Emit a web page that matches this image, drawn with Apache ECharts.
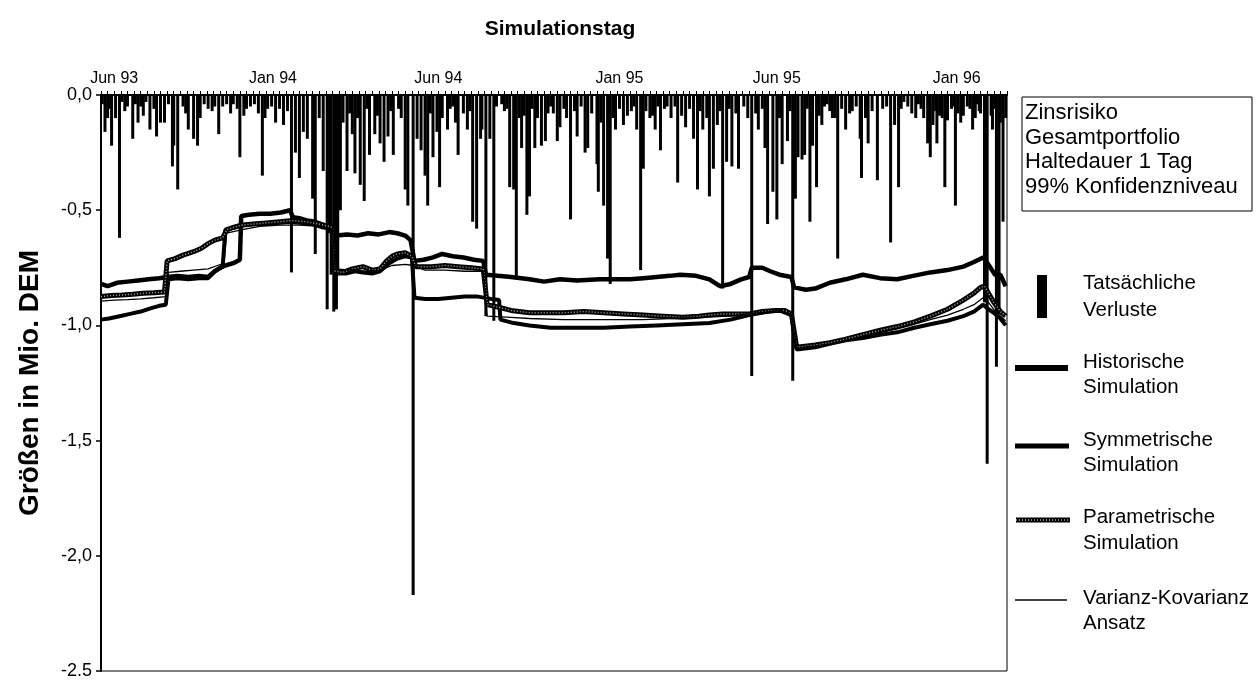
<!DOCTYPE html>
<html>
<head>
<meta charset="utf-8">
<title>Simulationstag</title>
<script src="https://cdn.jsdelivr.net/npm/echarts@6/dist/echarts.min.js"></script>
<style>
  html, body { margin: 0; padding: 0; background: #fff; }
  #chart { width: 1258px; height: 681px; }
</style>
</head>
<body>
<div id="chart"></div>
<script>
// x = Simulationstag (Handelstag seit Jun 93), y = Mio. DEM
const dayCount = 685;
const xTickDays = [10, 130, 255, 392, 511, 647];
const xTickLabels = ['Jun 93', 'Jan 94', 'Jun 94', 'Jan 95', 'Jun 95', 'Jan 96'];
const yTickValues = [0, -0.5, -1, -1.5, -2, -2.5];
const yTickLabels = ['0,0', '-0,5', '-1,0', '-1,5', '-2,0', '-2.5'];

// Tatsächliche Verluste [Tag, Verlust]
const lossData = [
  [1,-0.04],[3,-0.16],[5,-0.10],[7,-0.06],[8,-0.22],[11,-0.10],[14,-0.62],[16,-0.03],[18,-0.07],[20,-0.05],
  [24,-0.19],[26,-0.04],[28,-0.12],[30,-0.05],[32,-0.09],[34,-0.03],[37,-0.15],[40,-0.06],[42,-0.18],[45,-0.12],
  [48,-0.12],[51,-0.04],[54,-0.31],[55,-0.22],[58,-0.41],[62,-0.05],[64,-0.08],[66,-0.15],[70,-0.19],[73,-0.22],
  [75,-0.10],[78,-0.04],[81,-0.06],[84,-0.07],[86,-0.05],[89,-0.17],[92,-0.05],[95,-0.04],[98,-0.08],[100,-0.04],
  [103,-0.06],[105,-0.27],[108,-0.09],[110,-0.06],[113,-0.05],[116,-0.04],[119,-0.08],[122,-0.35],[124,-0.10],[126,-0.06],
  [129,-0.05],[132,-0.12],[135,-0.06],[138,-0.13],[141,-0.07],[144,-0.77],[147,-0.25],[150,-0.36],[153,-0.16],[156,-0.19],
  [160,-0.45],[162,-0.69],[165,-0.10],[168,-0.33],[171,-0.93],[172,-0.60],[174,-0.78],[176,-0.94],[178,-0.93],[179,-0.78],
  [181,-0.50],[183,-0.12],[186,-0.33],[188,-0.08],[190,-0.17],[192,-0.34],[194,-0.10],[196,-0.39],[199,-0.46],[201,-0.06],
  [203,-0.26],[207,-0.17],[209,-0.09],[211,-0.21],[214,-0.29],[217,-0.18],[219,-0.07],[221,-0.26],[225,-0.06],[227,-0.10],
  [230,-0.41],[232,-0.48],[236,-2.17],[239,-0.19],[242,-0.24],[245,-0.35],[247,-0.48],[249,-0.08],[251,-0.27],[254,-0.16],
  [256,-0.40],[258,-0.10],[262,-0.15],[264,-0.06],[266,-0.05],[268,-0.12],[270,-0.26],[274,-0.08],[277,-0.15],[279,-0.07],
  [281,-0.55],[284,-0.58],[287,-0.19],[288,-0.15],[291,-0.96],[294,-0.19],[297,-0.98],[299,-0.05],[303,-0.04],[305,-0.07],
  [307,-0.06],[309,-0.40],[312,-0.41],[314,-0.80],[316,-0.10],[318,-0.23],[320,-0.09],[322,-0.52],[324,-0.44],[326,-0.06],
  [328,-0.23],[330,-0.10],[333,-0.22],[336,-0.20],[338,-0.08],[340,-0.05],[342,-0.08],[345,-0.20],[347,-0.14],[350,-0.06],
  [352,-0.10],[355,-0.54],[358,-0.07],[360,-0.18],[363,-0.05],[366,-0.25],[368,-0.23],[371,-0.08],[375,-0.30],[376,-0.42],
  [378,-0.12],[380,-0.48],[383,-0.71],[385,-0.82],[387,-0.10],[389,-0.15],[392,-0.06],[395,-0.13],[398,-0.09],[401,-0.07],
  [403,-0.05],[405,-0.15],[408,-0.76],[410,-0.32],[412,-0.07],[415,-0.10],[417,-0.09],[419,-0.15],[421,-0.05],[423,-0.24],
  [426,-0.06],[428,-0.05],[431,-0.10],[434,-0.05],[436,-0.38],[439,-0.09],[442,-0.14],[445,-0.06],[448,-0.19],[451,-0.41],
  [453,-0.07],[455,-0.15],[458,-0.10],[460,-0.44],[463,-0.32],[466,-0.13],[468,-0.07],[470,-0.84],[473,-0.29],[475,-0.06],
  [477,-0.31],[480,-0.08],[482,-0.32],[486,-0.05],[489,-0.10],[492,-1.22],[495,-0.08],[497,-0.15],[500,-0.06],[502,-0.23],
  [504,-0.56],[508,-0.42],[511,-0.54],[513,-0.10],[515,-0.30],[519,-0.20],[521,-0.07],[523,-1.24],[525,-0.45],[527,-0.27],
  [530,-0.28],[532,-0.26],[534,-0.06],[536,-0.55],[538,-0.22],[541,-0.40],[543,-0.09],[545,-0.13],[547,-0.05],[549,-0.04],
  [551,-0.07],[553,-0.10],[555,-0.10],[557,-0.71],[560,-0.06],[563,-0.15],[566,-0.08],[568,-0.07],[571,-0.05],[574,-0.19],
  [575,-0.36],[578,-0.10],[580,-0.21],[583,-0.07],[587,-0.37],[591,-0.06],[594,-0.05],[597,-0.64],[600,-0.13],[603,-0.40],
  [605,-0.06],[607,-0.03],[610,-0.05],[613,-0.08],[616,-0.10],[618,-0.04],[620,-0.06],[622,-0.10],[625,-0.21],[627,-0.27],
  [629,-0.13],[631,-0.07],[632,-0.21],[634,-0.09],[636,-0.10],[638,-0.40],[640,-0.11],[643,-0.06],[645,-0.05],[646,-0.48],
  [648,-0.08],[650,-0.12],[652,-0.09],[655,-0.05],[657,-0.06],[659,-0.15],[661,-0.10],[662,-0.04],[664,-0.07],[665,-0.08],
  [668,-0.90],[670,-1.60],[673,-0.09],[674,-0.15],[676,-0.06],[677,-1.18],[679,-0.95],[680,-0.12],[682,-0.55],[684,-0.10]
];

// Historische Simulation
const hsData = [
  [0,-0.82],[5,-0.83],[12,-0.815],[20,-0.81],[28,-0.805],[36,-0.80],[44,-0.795],[50,-0.79],
  [58,-0.785],[66,-0.79],[74,-0.785],[81,-0.79],[86,-0.765],[90,-0.75],[94,-0.74],[100,-0.73],[105,-0.715],
  [106,-0.525],[112,-0.52],[120,-0.515],[128,-0.515],[136,-0.51],[143,-0.50],
  [145,-0.53],[150,-0.535],[156,-0.545],[162,-0.55],[168,-0.565],[174,-0.575],
  [178,-0.61],[186,-0.605],[194,-0.61],[202,-0.60],[210,-0.605],[218,-0.595],[224,-0.60],[230,-0.61],[234,-0.63],
  [237,-0.72],[244,-0.715],[251,-0.705],[258,-0.69],[266,-0.70],[274,-0.705],[282,-0.715],[289,-0.72],
  [291,-0.78],[300,-0.785],[310,-0.79],[324,-0.80],[335,-0.81],[347,-0.80],[360,-0.805],[377,-0.80],[390,-0.80],
  [400,-0.80],[410,-0.795],[420,-0.79],[430,-0.785],[438,-0.78],[450,-0.785],[460,-0.80],[468,-0.83],[476,-0.82],
  [484,-0.80],[490,-0.79],[492,-0.75],[500,-0.75],[506,-0.765],[513,-0.78],[522,-0.79],
  [524,-0.835],[533,-0.845],[540,-0.84],[551,-0.815],[563,-0.80],[576,-0.78],[589,-0.795],[602,-0.80],
  [614,-0.785],[627,-0.77],[640,-0.76],[652,-0.745],[660,-0.725],[667,-0.705],[672,-0.745],[676,-0.78],[680,-0.78],[684,-0.83]
];

// Symmetrische Simulation
const ssData = [
  [0,-0.975],[6,-0.97],[14,-0.96],[22,-0.95],[30,-0.94],[38,-0.925],[44,-0.915],[49,-0.91],
  [51,-0.80],[58,-0.795],[66,-0.80],[74,-0.795],[81,-0.795],[86,-0.765],[92,-0.745],
  [94,-0.585],[100,-0.575],[106,-0.565],[115,-0.56],[125,-0.56],[135,-0.555],[143,-0.55],[150,-0.555],[160,-0.56],[168,-0.575],[175,-0.58],
  [177,-0.775],[185,-0.775],[192,-0.765],[198,-0.77],[205,-0.775],[211,-0.765],[218,-0.73],[224,-0.71],[230,-0.70],[235,-0.705],
  [237,-0.88],[245,-0.885],[255,-0.885],[265,-0.88],[275,-0.875],[285,-0.875],[295,-0.885],[301,-0.89],
  [302,-0.975],[312,-0.99],[324,-1.0],[340,-1.01],[360,-1.01],[380,-1.01],[400,-1.005],[420,-1.0],[440,-0.995],
  [460,-0.99],[476,-0.975],[490,-0.955],[505,-0.94],[513,-0.935],[522,-0.955],
  [526,-1.105],[540,-1.095],[551,-1.08],[563,-1.065],[576,-1.055],[590,-1.04],[602,-1.03],[615,-1.01],
  [627,-0.995],[640,-0.98],[652,-0.96],[660,-0.94],[667,-0.91],[671,-0.93],[675,-0.945],[680,-0.97],[684,-1.0]
];

// Parametrische Simulation
const psData = [
  [0,-0.875],[8,-0.87],[16,-0.868],[24,-0.865],[32,-0.86],[40,-0.858],[48,-0.855],
  [50,-0.72],[56,-0.71],[62,-0.695],[70,-0.68],[76,-0.665],[81,-0.645],[86,-0.63],[92,-0.62],[95,-0.585],
  [100,-0.575],[106,-0.565],[115,-0.56],[125,-0.555],[135,-0.55],[145,-0.545],[155,-0.55],[165,-0.56],[172,-0.57],[175,-0.575],
  [177,-0.765],[183,-0.77],[190,-0.755],[198,-0.745],[205,-0.76],[211,-0.755],[216,-0.72],[220,-0.70],[224,-0.69],[230,-0.685],[235,-0.70],
  [238,-0.745],[250,-0.745],[260,-0.74],[270,-0.745],[280,-0.75],[289,-0.755],
  [292,-0.91],[300,-0.92],[310,-0.935],[324,-0.945],[335,-0.945],[350,-0.945],[365,-0.94],[380,-0.945],[395,-0.95],
  [410,-0.955],[425,-0.96],[440,-0.965],[452,-0.96],[460,-0.955],[470,-0.95],[480,-0.95],[490,-0.95],[500,-0.94],
  [510,-0.935],[517,-0.935],[522,-0.95],
  [526,-1.095],[540,-1.085],[551,-1.075],[563,-1.06],[576,-1.04],[590,-1.02],[602,-1.005],[615,-0.985],
  [627,-0.96],[640,-0.93],[652,-0.89],[660,-0.86],[665,-0.835],[668,-0.83],[671,-0.86],[675,-0.90],[680,-0.94],[684,-0.96]
];

// Varianz-Kovarianz Ansatz
const vkData = [
  [0,-0.895],[10,-0.89],[20,-0.888],[30,-0.885],[40,-0.88],[49,-0.875],
  [51,-0.77],[60,-0.765],[70,-0.76],[81,-0.755],[88,-0.74],[93,-0.73],[95,-0.60],[106,-0.585],[120,-0.57],
  [135,-0.565],[150,-0.565],[165,-0.57],[175,-0.58],
  [177,-0.755],[190,-0.76],[200,-0.765],[211,-0.76],[220,-0.74],[230,-0.735],[236,-0.74],[245,-0.76],[260,-0.76],[275,-0.765],[289,-0.765],
  [292,-0.96],[310,-0.965],[324,-0.97],[350,-0.975],[380,-0.975],[410,-0.975],[430,-0.97],[453,-0.965],[476,-0.96],
  [490,-0.95],[505,-0.94],[513,-0.935],[522,-0.95],
  [526,-1.10],[540,-1.09],[551,-1.08],[563,-1.065],[576,-1.05],[590,-1.03],[602,-1.015],[615,-0.995],
  [627,-0.975],[640,-0.955],[652,-0.93],[660,-0.91],[667,-0.88],[671,-0.90],[675,-0.93],[680,-0.96],[684,-0.98]
];

const infoLines = ['Zinsrisiko', 'Gesamtportfolio', 'Haltedauer 1 Tag', '99% Konfidenzniveau'];

const font = '"Liberation Sans", Arial, sans-serif';
const chart = echarts.init(document.getElementById('chart'));

function legendText(x, y, str) {
  return { type: 'text', x: x, y: y, style: { text: str, font: '20.5px ' + font, fill: '#000', verticalAlign: 'middle' } };
}

const graphics = [
  { type: 'rect', shape: { x: 1022, y: 97, width: 230, height: 114 }, style: { fill: '#fff', stroke: '#000', lineWidth: 1 } },
  { type: 'rect', shape: { x: 1037, y: 275, width: 10, height: 43 }, style: { fill: '#000' } },
  { type: 'line', shape: { x1: 1015, y1: 368, x2: 1068, y2: 368 }, style: { stroke: '#000', lineWidth: 6 } },
  { type: 'line', shape: { x1: 1015, y1: 446, x2: 1069, y2: 446 }, style: { stroke: '#000', lineWidth: 5 } },
  { type: 'line', shape: { x1: 1016, y1: 520, x2: 1070, y2: 520 }, style: { stroke: '#000', lineWidth: 5 } },
  { type: 'line', shape: { x1: 1016, y1: 520, x2: 1070, y2: 520 }, style: { stroke: '#aaa', lineWidth: 1.5, lineDash: [1, 2] } },
  { type: 'line', shape: { x1: 1015, y1: 600, x2: 1067, y2: 600 }, style: { stroke: '#000', lineWidth: 1.5 } },
  legendText(1083, 283, 'Tatsächliche'), legendText(1083, 310, 'Verluste'),
  legendText(1083, 362, 'Historische'), legendText(1083, 387, 'Simulation'),
  legendText(1083, 440, 'Symmetrische'), legendText(1083, 465, 'Simulation'),
  legendText(1083, 517, 'Parametrische'), legendText(1083, 543, 'Simulation'),
  legendText(1083, 598, 'Varianz-Kovarianz'), legendText(1083, 623, 'Ansatz')
];
infoLines.forEach((t, i) => {
  graphics.push({ type: 'text', x: 1025, y: 113 + i * 24.5, style: { text: t, font: '22px ' + font, fill: '#000', verticalAlign: 'middle' } });
});

chart.setOption({
  animation: false,
  backgroundColor: '#fff',
  textStyle: { fontFamily: font, color: '#000' },
  title: {
    text: 'Simulationstag',
    left: 555,
    top: 14,
    textAlign: 'center',
    textStyle: { fontSize: 21, fontWeight: 'bold', color: '#000', fontFamily: font }
  },
  grid: { left: 101, right: 251, top: 95, bottom: 10, show: true, borderColor: '#000', borderWidth: 1 },
  xAxis: {
    type: 'value',
    position: 'top',
    min: 0,
    max: dayCount,
    interval: 5,
    axisLine: { lineStyle: { color: '#000', width: 2 } },
    axisTick: { length: 4, lineStyle: { color: '#000', width: 1 } },
    axisLabel: {
      customValues: xTickDays,
      formatter: v => xTickLabels[xTickDays.indexOf(v)] || '',
      fontSize: 16,
      color: '#000',
      margin: 8
    },
    splitLine: { show: false }
  },
  yAxis: {
    type: 'value',
    min: -2.5,
    max: 0,
    interval: 0.5,
    name: 'Größen in Mio. DEM',
    nameLocation: 'middle',
    nameGap: 57,
    nameTextStyle: { fontSize: 28, fontWeight: 'bold', color: '#000', fontFamily: font },
    axisLine: { show: true, lineStyle: { color: '#000', width: 2 } },
    axisTick: { show: true, length: 5, lineStyle: { color: '#000', width: 1.5 } },
    axisLabel: {
      formatter: v => {
        const i = yTickValues.findIndex(t => Math.abs(t - v) < 1e-6);
        return i >= 0 ? yTickLabels[i] : '';
      },
      fontSize: 18,
      color: '#000',
      margin: 9
    },
    splitLine: { show: false }
  },
  series: [
    { name: 'Tatsächliche Verluste', type: 'bar', data: lossData, barWidth: 3, itemStyle: { color: '#000' }, silent: true },
    { name: 'Historische Simulation', type: 'line', data: hsData, showSymbol: false, lineStyle: { color: '#000', width: 4.5 }, silent: true },
    { name: 'Symmetrische Simulation', type: 'line', data: ssData, showSymbol: false, lineStyle: { color: '#000', width: 4 }, silent: true },
    { name: 'Parametrische Simulation', type: 'line', data: psData, showSymbol: false, lineStyle: { color: '#000', width: 5 }, silent: true },
    { name: 'Parametrische Simulation', type: 'line', data: psData, showSymbol: false, lineStyle: { color: '#aaa', width: 1.5, type: [1, 2] }, silent: true },
    { name: 'Varianz-Kovarianz Ansatz', type: 'line', data: vkData, showSymbol: false, lineStyle: { color: '#000', width: 1.3 }, silent: true }
  ],
  graphic: graphics
});
</script>
</body>
</html>
